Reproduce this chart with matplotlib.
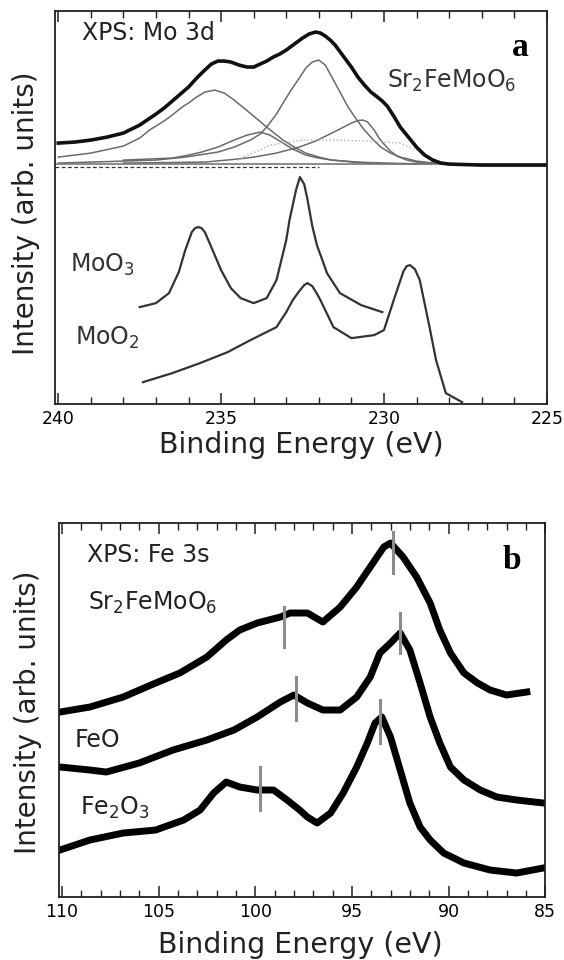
"""
XPS spectra: (a) Mo 3d of Sr2FeMoO6 with fitted components and MoO3 / MoO2
references, (b) Fe 3s of Sr2FeMoO6, FeO and Fe2O3.
"""

import matplotlib
matplotlib.use("Agg")
import matplotlib.pyplot as plt
from matplotlib.ticker import MultipleLocator

plt.rcParams['font.family'] = ['DejaVu Sans']
plt.rcParams['mathtext.fontset'] = 'dejavusans'

# ---- panel a: Mo 3d (binding energy in eV, intensity in arb. units) ----
sum_e = [240, 239.5, 239, 238.5, 238, 237.5, 237, 236.75, 236.5, 236.25,
         236, 235.75, 235.5, 235.3, 235.1, 234.9, 234.7, 234.45, 234.2,
         234.0, 233.8, 233.6, 233.4, 233.2, 233, 232.75, 232.5, 232.3,
         232.1, 231.95, 231.8, 231.65, 231.5, 231.25, 231, 230.8, 230.6,
         230.4, 230.2, 230.05, 229.9, 229.7, 229.5, 229.25, 229, 228.75,
         228.5, 228.25, 228, 227, 226, 225]
sum_i = [261, 262, 264, 267, 271, 279, 290, 296, 303, 310,
         317, 326, 334, 340, 343, 343, 342, 339, 337,
         337, 340, 343, 347, 350, 354, 360, 366, 370,
         372, 371, 368, 364, 359, 348, 337, 327, 319,
         312, 307, 303, 298, 288, 277, 267, 257, 249,
         244, 241, 240, 239, 239, 239]

comp1_e = [240, 239, 238, 237.5, 237.2, 236.8, 236.5, 236.2, 236, 235.8,
           235.5, 235.2, 234.9, 234.6, 234.3, 234.0, 233.6, 233.1, 232.7,
           232.4, 232.0, 231.6, 230.6, 229]
comp1_i = [247, 251, 258, 266, 274, 282, 289, 297, 301, 306,
           312, 314, 311, 304, 296, 288, 277, 264, 256,
           251, 247, 244, 241, 240]

comp2_e = [240, 238, 237, 236.1, 235.5, 235.1, 234.6, 234.1, 233.8, 233.6,
           233.3, 233.1, 232.85, 232.6, 232.4, 232.2, 232.0, 231.8, 231.6,
           231.35, 231.1, 230.85, 230.6, 230.35, 230.1, 229.8, 229.5, 229,
           228.5, 227.5]
comp2_i = [241, 243, 244, 247, 250, 252, 257, 264, 270, 277,
           290, 301, 314, 326, 336, 342, 344, 339, 327,
           312, 297, 285, 274, 265, 257, 251, 247, 243,
           241, 240]

comp3_e = [238, 235.5, 234.5, 234.0, 233.3, 232.6, 232.1, 231.6, 231.3,
           231.0, 230.8, 230.65, 230.5, 230.3, 230.15, 230.0, 229.8, 229.6,
           229.3, 229.0, 228.5, 228]
comp3_i = [241, 242, 245, 247, 251, 257, 263, 271, 276,
           281, 283.5, 284, 282, 274, 266, 260, 253, 248,
           244, 242, 241, 240]

comp4_e = [238, 236.5, 236, 235.6, 235.1, 234.6, 234.2, 233.8, 233.5, 233.1,
           232.8, 232.4, 232, 231.6, 230.8, 230, 228.5]
comp4_i = [244, 246, 249, 252, 257, 264, 269, 272, 269, 261,
           255, 249, 246, 244, 242, 241, 240]

bg_e = [234.5, 233.5, 232.5, 231.5, 230.5, 229.5, 229, 228.5]
bg_i = [244, 259, 264, 264, 263, 261, 254, 242]

moo3_e = [237.5, 237.0, 236.6, 236.3, 236.1, 235.9, 235.8, 235.7, 235.6,
          235.5, 235.3, 235.0, 234.7, 234.4, 234.0, 233.6, 233.3, 233.0,
          232.9, 232.8, 232.7, 232.58, 232.45, 232.35, 232.2, 232.05,
          231.9, 231.75, 231.35, 230.7, 230.05]
moo3_i = [97, 101, 111, 132, 154, 172, 176, 177, 176,
          172, 157, 134, 116, 106, 101, 106, 124, 164,
          184, 199, 214, 227, 220, 205, 178, 158,
          145, 131, 111, 99, 92]

moo2_e = [237.4, 236.5, 235.65, 234.8, 234.1, 233.3, 233.0, 232.8, 232.6,
          232.45, 232.35, 232.2, 232.05, 231.95, 231.55, 231.0, 230.3,
          230.0, 229.7, 229.4, 229.3, 229.2, 229.05, 228.9, 228.6, 228.4,
          228.1, 227.6]
moo2_i = [22, 31, 41, 52, 64, 77, 92, 104, 113,
          119, 121, 118, 110, 104, 77, 66, 69,
          74, 104, 133, 138, 139, 135, 124, 77, 44,
          11, 2]

# ---- panel b: Fe 3s ----
sfmo_e = [110.1, 108.55, 106.83, 105.15, 103.9, 102.5, 101.5, 100.8, 99.9,
          98.7, 98.2, 97.3, 96.5, 95.6, 94.75, 94.05, 93.35, 93.0, 92.35,
          91.65, 90.95, 90.45, 89.9, 89.2, 88.5, 87.85, 87.0, 85.95]
sfmo_i = [185, 190, 200, 214, 224, 240, 257, 267, 274,
          280, 284, 284, 275, 290, 310, 330, 350, 354, 340,
          320, 294, 267, 244, 224, 214, 207, 202, 205]

feo_e = [110.1, 108.55, 107.7, 106.0, 104.25, 102.5, 101.1, 99.9, 98.7,
         98.0, 97.3, 96.5, 95.6, 94.75, 94.05, 93.55, 93.0, 92.5, 92.0,
         91.47, 90.95, 90.45, 89.9, 89.2, 88.36, 87.5, 86.47, 85.1]
feo_i = [130, 127, 125, 134, 147, 157, 167, 180, 195,
         202, 194, 187, 187, 200, 220, 244, 254, 264, 247,
         214, 180, 154, 130, 117, 107, 100, 97, 94]

fe2o3_e = [110.1, 108.55, 106.83, 105.15, 103.7, 102.85, 102.15, 101.5,
           100.8, 99.9, 99.05, 98.35, 97.7, 97.3, 96.8, 96.1, 95.45, 94.75,
           94.2, 93.8, 93.45, 93.0, 92.5, 92.0, 91.47, 90.95, 90.25, 89.2,
           87.85, 86.47, 85.1]
fe2o3_i = [47, 57, 64, 67, 77, 87, 104, 115,
           110, 107, 107, 97, 87, 80, 74, 84, 104, 130,
           154, 174, 180, 160, 127, 94, 70, 57, 44, 34,
           27, 24, 29]

# gray peak markers: energy, lower and upper intensity
mark_e = [98.5, 92.85, 97.9, 92.5, 99.75, 93.55]
mark_lo = [250, 324, 177, 244, 87, 154]
mark_hi = [290, 365, 220, 284, 130, 197]

fig = plt.figure(figsize=(5.64, 9.6), dpi=100)
ax_a = fig.add_axes([0.0975, 0.579, 0.872, 0.4095])
ax_b = fig.add_axes([0.1046, 0.0656, 0.862, 0.3896])

label_fs = 17
tick_fs = 12.5
axis_fs = 20.5

# panel a
for ce, ci in [(comp1_e, comp1_i), (comp2_e, comp2_i),
               (comp3_e, comp3_i), (comp4_e, comp4_i)]:
    ax_a.plot(ce, ci, color='#6a6a6a', lw=1.1)
ax_a.plot(bg_e, bg_i, color='#b0b0b0', lw=1.0, ls=':')
ax_a.plot([240.1, 225], [240, 240], color='#777777', lw=1.2)
ax_a.plot([240.1, 232], [237, 237], color='#333333', lw=0.9, ls=(0, (3, 2)))
ax_a.plot(sum_e, sum_i, color='#111111', lw=2.6)
ax_a.plot(moo3_e, moo3_i, color='#333333', lw=1.6)
ax_a.plot(moo2_e, moo2_i, color='#333333', lw=1.6)

ax_a.text(239.26, 371, 'XPS: Mo 3d', fontsize=label_fs, color='#222222',
          va='center', ha='left')
ax_a.text(225.8, 357, 'a', fontsize=24, fontweight='bold',
          family='Liberation Serif', ha='center', va='center')
ax_a.text(229.9, 316, 'Sr$_2$FeMoO$_6$', fontsize=label_fs, color='#333333',
          va='baseline', ha='left')
ax_a.text(239.63, 132, 'MoO$_3$', fontsize=label_fs, color='#333333',
          va='baseline', ha='left')
ax_a.text(239.5, 59, 'MoO$_2$', fontsize=label_fs, color='#333333',
          va='baseline', ha='left')

ax_a.set_xlim(240.1, 225)
ax_a.set_ylim(0, 393)
ax_a.xaxis.set_major_locator(MultipleLocator(5))
ax_a.xaxis.set_minor_locator(MultipleLocator(1))

# panel b
ax_b.plot(sfmo_e, sfmo_i, color='black', lw=5.0)
ax_b.plot(feo_e, feo_i, color='black', lw=5.0)
ax_b.plot(fe2o3_e, fe2o3_i, color='black', lw=5.0)
for e, lo, hi in zip(mark_e, mark_lo, mark_hi):
    ax_b.plot([e, e], [lo, hi], color='#8c8c8c', lw=2.2, zorder=3)

ax_b.text(108.7, 335, 'XPS: Fe 3s', fontsize=label_fs, color='#222222',
          va='baseline', ha='left')
ax_b.text(86.7, 337, 'b', fontsize=24, fontweight='bold',
          family='Liberation Serif', ha='center', va='center')
ax_b.text(108.65, 287, 'Sr$_2$FeMoO$_6$', fontsize=label_fs, color='#222222',
          va='baseline', ha='left')
ax_b.text(109.33, 150, 'FeO', fontsize=label_fs, color='#222222',
          va='baseline', ha='left')
ax_b.text(109.07, 82, 'Fe$_2$O$_3$', fontsize=label_fs, color='#222222',
          va='baseline', ha='left')

ax_b.set_xlim(110.15, 85)
ax_b.set_ylim(0, 374)
ax_b.xaxis.set_major_locator(MultipleLocator(5))
ax_b.xaxis.set_minor_locator(MultipleLocator(1))

for ax in (ax_a, ax_b):
    ax.set_yticks([])
    ax.tick_params(axis='x', which='both', direction='in', top=True,
                   bottom=True, labelsize=tick_fs, pad=4, color='#222222')
    ax.tick_params(axis='x', which='major', length=8, width=1.1)
    ax.tick_params(axis='x', which='minor', length=5, width=1.0)
    for s in ax.spines.values():
        s.set_linewidth(1.3)
        s.set_color('#222222')
    ax.set_xlabel('Binding Energy (eV)', fontsize=axis_fs, color='#222222')
    ax.set_ylabel('Intensity (arb. units)', fontsize=20, color='#222222')

ax_a.xaxis.set_label_coords(0.5, -0.068)
ax_a.yaxis.set_label_coords(-0.030, 0.486)
ax_b.xaxis.set_label_coords(0.496, -0.092)
ax_b.yaxis.set_label_coords(-0.035, 0.495)

fig.savefig('out.png', dpi=100)
